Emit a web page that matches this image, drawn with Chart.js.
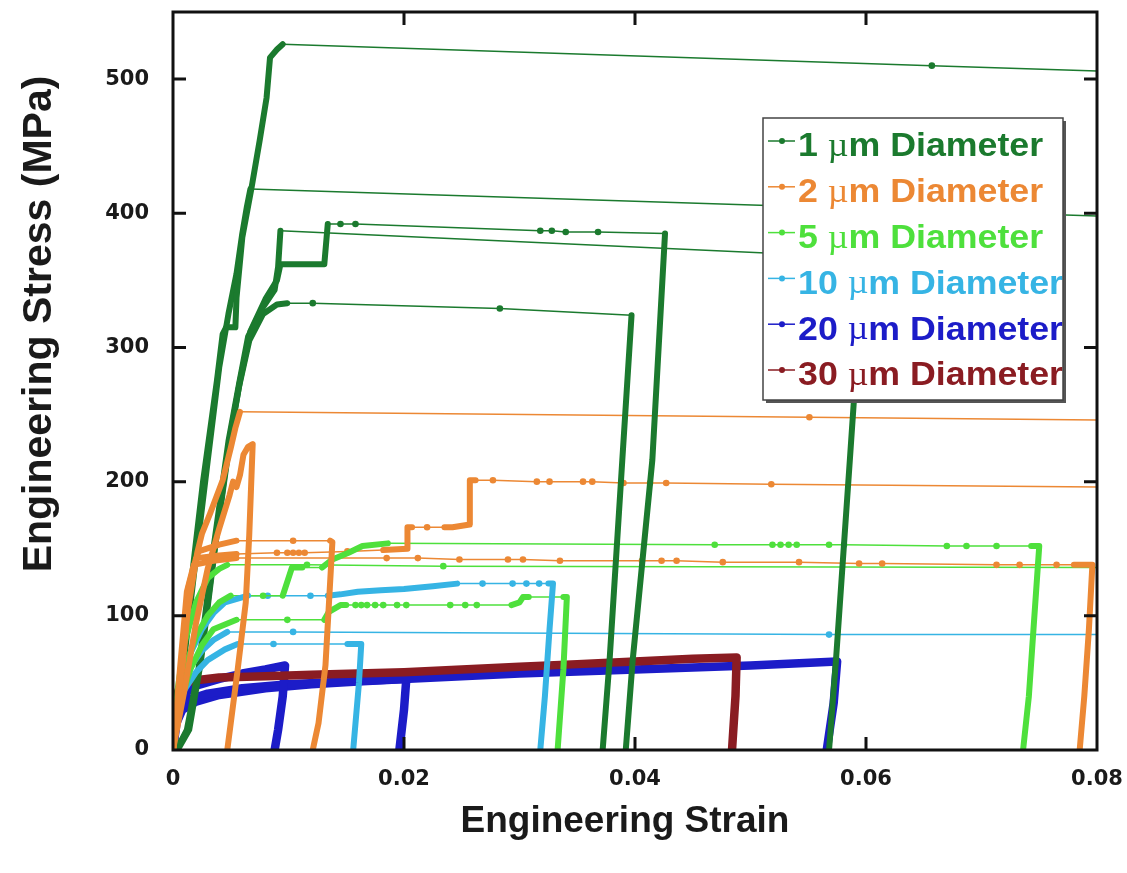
<!DOCTYPE html>
<html><head><meta charset="utf-8">
<script src="https://cdn.jsdelivr.net/npm/chart.js@4.4.1/dist/chart.umd.min.js"></script>
<style>html,body{margin:0;padding:0;background:#fff;overflow:hidden}#wrap{width:1127px;height:873px;position:relative}</style>
</head><body><div id="wrap"><canvas id="c"></canvas></div>
<script>
// ---------- axis ticks ----------
const strainTicks = [0, 0.02, 0.04, 0.06, 0.08];
const strainTickLabels = ['0', '0.02', '0.04', '0.06', '0.08'];
const stressTicks = [0, 100, 200, 300, 400, 500];
const stressTickLabels = ['0', '100', '200', '300', '400', '500'];
const xTitle = 'Engineering Strain';
const yTitle = 'Engineering Stress (MPa)';

// ---------- series ----------
const seriesNames = ['1 µm Diameter', '2 µm Diameter', '5 µm Diameter', '10 µm Diameter', '20 µm Diameter', '30 µm Diameter'];
const seriesColors = ['#1b7a2e', '#ec8834', '#4ee03c', '#36b4e4', '#1c1cc8', '#8a1c22'];

// 1 µm specimens [strain, stress]
const um1_a_load = [[0,0],[0.0006,45],[0.0015,119],[0.0026,200],[0.0038,275],[0.0043,310],[0.0046,315],[0.0054,315],[0.0055,337],[0.0060,382],[0.0068,419],[0.0075,454],[0.0081,486],[0.0084,516],[0.0090,522],[0.0095,526]];
const um1_a_tail = [[0.0657,510],[0.08,506]];
const um1_b_load = [[0,0],[0.0008,55],[0.0018,130],[0.0030,215],[0.0040,285],[0.0048,325],[0.0055,355],[0.0060,385],[0.0064,405],[0.0067,418]];
const um1_b_tail = [[0.08,398]];
const um1_c_load = [[0.0003,0],[0.0012,15],[0.0022,60],[0.0035,150],[0.0048,230],[0.0057,272],[0.0065,308],[0.0078,330],[0.0088,343],[0.0091,360],[0.0093,387]];
const um1_c_tail = [];
const um1_c_drop = [[0.0598,367],[0.0586,216],[0.0574,67],[0.0568,0]];
const um1_d_load = [[0.0004,0],[0.0014,15],[0.0024,65],[0.0037,155],[0.0050,235],[0.0058,275],[0.0067,312],[0.0080,336],[0.0090,350],[0.0093,362],[0.0131,362],[0.0134,392]];
const um1_d_tail = [[0.0145,392],[0.0158,392],[0.0318,387],[0.0328,387],[0.0340,386],[0.0368,386]];
const um1_d_drop = [[0.0426,385],[0.0415,216],[0.0398,67],[0.0392,0]];
const um1_e_load = [[0.0003,0],[0.0013,15],[0.0023,62],[0.0036,150],[0.0049,232],[0.0057,270],[0.0066,305],[0.0078,325],[0.0090,332],[0.0099,333]];
const um1_e_tail = [[0.0121,333],[0.0283,329]];
const um1_e_drop = [[0.0397,324],[0.0389,216],[0.0378,67],[0.0372,0]];

// 2 µm specimens
const um2_a_load = [[0,0],[0.0006,50],[0.0012,100],[0.0021,147],[0.0025,161],[0.0032,176],[0.0043,201],[0.0050,225],[0.0054,240],[0.0058,252]];
const um2_a_tail = [[0.0551,248],[0.08,246]];
const um2_b_load = [[0,0],[0.0010,45],[0.0020,95],[0.0030,135],[0.0040,165],[0.0049,190],[0.0052,200],[0.0055,196],[0.0058,205],[0.0061,220],[0.0065,226],[0.0069,228],[0.0066,160],[0.0063,110],[0.0056,60],[0.0050,20],[0.0047,0]];
const um2_c_load = [[0,0],[0.0008,60],[0.0015,125],[0.0022,148],[0.0040,153],[0.0055,156]];
const um2_c_tail = [[0.0104,156]];
const um2_c_drop = [[0.0136,156],[0.0138,155],[0.0132,63],[0.0126,20],[0.0121,0]];
const um2_d_load = [[0,0],[0.0007,60],[0.0013,120],[0.0020,143],[0.0040,145],[0.0055,146]];
const um2_d_tail1 = [[0.0090,147],[0.0099,147],[0.0104,147],[0.0109,147],[0.0114,147],[0.0151,148]];
const um2_d_step1 = [[0.0182,149],[0.0203,150],[0.0203,166],[0.0207,166]];
const um2_d_tail2 = [[0.0220,166]];
const um2_d_step2 = [[0.0235,166],[0.0242,166],[0.0257,168],[0.0257,201],[0.0262,201]];
const um2_d_tail3 = [[0.0277,201],[0.0315,200],[0.0326,200],[0.0355,200],[0.0363,200],[0.0390,199],[0.0413,199],[0.0427,199],[0.0518,198],[0.08,196]];
const um2_e_load = [[0,0],[0.0006,60],[0.0012,118],[0.0018,138],[0.0035,141],[0.0055,143]];
const um2_e_tail = [[0.0185,143],[0.0212,143],[0.0248,142],[0.0290,142],[0.0303,142],[0.0335,141],[0.0406,141],[0.0423,141],[0.0436,141],[0.0476,140],[0.0542,140],[0.0594,139],[0.0614,139],[0.0713,138],[0.0733,138],[0.0765,138]];
const um2_e_drop = [[0.0780,138],[0.0796,138],[0.0793,90],[0.0789,40],[0.0785,0]];

// 5 µm specimens
const um5_a_load = [[0,0],[0.0005,40],[0.0010,60],[0.0020,85],[0.0030,100],[0.0040,110],[0.0050,115]];
const um5_a_tail1 = [[0.0078,115]];
const um5_a_step1 = [[0.0095,115],[0.0103,136],[0.0112,136]];
const um5_a_tail2 = [];
const um5_a_step2 = [[0.0129,136],[0.0138,142],[0.0152,147],[0.0164,152],[0.0186,154]];
const um5_a_tail3 = [[0.0469,153],[0.0519,153],[0.0526,153],[0.0533,153],[0.0540,153],[0.0568,153],[0.0581,153],[0.0670,152],[0.0687,152],[0.0713,152]];
const um5_a_drop = [[0.0743,152],[0.0750,152],[0.0745,90],[0.0741,40],[0.0736,0]];
const um5_b_load = [[0,0],[0.0004,45],[0.0010,80],[0.0020,110],[0.0030,128],[0.0040,135],[0.0047,138]];
const um5_b_tail = [[0.0116,138],[0.0234,137],[0.08,136]];
const um5_c_load = [[0,0],[0.0006,35],[0.0015,60],[0.0025,78],[0.0035,90],[0.0055,97]];
const um5_c_tail1 = [[0.0099,97]];
const um5_c_step1 = [[0.0131,97],[0.0135,103],[0.0145,108],[0.0150,108]];
const um5_c_tail2 = [[0.0158,108],[0.0163,108],[0.0168,108],[0.0175,108],[0.0182,108],[0.0194,108],[0.0202,108],[0.0240,108],[0.0253,108],[0.0263,108]];
const um5_c_step2 = [[0.0293,108],[0.0300,110],[0.0303,114],[0.0308,114]];
const um5_c_tail3 = [];
const um5_c_drop = [[0.0338,114],[0.0341,114],[0.0338,60],[0.0333,0]];

// 10 µm specimens
const um10_a_load = [[0,0],[0.0003,35],[0.0008,55],[0.0015,72],[0.0025,90],[0.0035,102],[0.0045,110],[0.0065,115]];
const um10_a_tail1 = [[0.0082,115],[0.0119,115]];
const um10_a_step = [[0.0134,115],[0.0145,116],[0.0160,118],[0.0180,119],[0.0200,120],[0.0225,122],[0.0246,124]];
const um10_a_tail2 = [[0.0268,124],[0.0294,124],[0.0306,124],[0.0317,124]];
const um10_a_drop = [[0.0325,124],[0.0329,124],[0.0326,90],[0.0322,40],[0.0318,0]];
const um10_b_load = [[0,0],[0.0003,30],[0.0008,48],[0.0015,62],[0.0025,74],[0.0035,82],[0.0047,88]];
const um10_b_tail = [[0.0104,88],[0.0568,86],[0.08,86]];
const um10_c_load = [[0,0],[0.0004,30],[0.0010,45],[0.0020,58],[0.0030,67],[0.0045,75],[0.0056,79]];
const um10_c_tail = [[0.0087,79]];
const um10_c_drop = [[0.0151,79],[0.0163,79],[0.0161,50],[0.0158,20],[0.0156,0]];

// 20 µm specimens
const um20_a = [[0,0],[0.0002,25],[0.0005,35],[0.0010,42],[0.0020,48],[0.0040,53],[0.0060,57],[0.0080,60],[0.0097,63],[0.0095,40],[0.0091,15],[0.0088,0]];
const um20_b = [[0,0],[0.0003,25],[0.0007,32],[0.0015,38],[0.0030,42],[0.0060,46],[0.0100,49],[0.0150,51],[0.0200,53],[0.0300,57],[0.0400,60],[0.0500,63],[0.0575,66],[0.0572,35],[0.0566,0]];
const um20_c = [[0,0],[0.0003,20],[0.0008,30],[0.0020,36],[0.0040,41],[0.0080,46],[0.0120,49],[0.0160,51],[0.0202,53],[0.0200,30],[0.0196,0]];

// 30 µm specimen
const um30_a = [[0,0],[0.0001,25],[0.0003,40],[0.0006,47],[0.0010,50],[0.0020,52],[0.0040,54],[0.0080,55],[0.0120,56],[0.0160,57],[0.0200,58],[0.0250,60],[0.0300,62],[0.0350,64],[0.0400,66],[0.0450,68],[0.0488,69],[0.0487,40],[0.0484,0]];

// parts alternate: dense (thick) part, sparse (thin, dotted) part, dense part ...
const specimens = [
  [[um1_a_load, um1_a_tail], [um1_b_load, um1_b_tail], [um1_c_load, um1_c_tail, um1_c_drop], [um1_d_load, um1_d_tail, um1_d_drop], [um1_e_load, um1_e_tail, um1_e_drop]],
  [[um2_a_load, um2_a_tail], [um2_b_load], [um2_c_load, um2_c_tail, um2_c_drop], [um2_d_load, um2_d_tail1, um2_d_step1, um2_d_tail2, um2_d_step2, um2_d_tail3], [um2_e_load, um2_e_tail, um2_e_drop]],
  [[um5_a_load, um5_a_tail1, um5_a_step1, um5_a_tail2, um5_a_step2, um5_a_tail3, um5_a_drop], [um5_b_load, um5_b_tail], [um5_c_load, um5_c_tail1, um5_c_step1, um5_c_tail2, um5_c_step2, um5_c_tail3, um5_c_drop]],
  [[um10_a_load, um10_a_tail1, um10_a_step, um10_a_tail2, um10_a_drop], [um10_b_load, um10_b_tail], [um10_c_load, um10_c_tail, um10_c_drop]],
  [[um20_a], [um20_b], [um20_c]],
  [[um30_a]]
];

const thickOrder = [13, 10, 11, 12, 15, 14];
const thickWidth = [6, 6, 6, 6, 8.5, 8.5];
const toXY = arr => arr.map(p => ({x: p[0], y: p[1]}));

const datasets = [];
specimens.forEach((group, s) => {
  const color = seriesColors[s];
  group.forEach(parts => {
    parts.forEach((part, i) => {
      if (i % 2 === 0) {
        datasets.push({label: seriesNames[s], data: toXY(part), showLine: true, borderColor: color, backgroundColor: color,
          borderWidth: thickWidth[s], pointRadius: 0, borderJoinStyle: 'round', borderCapStyle: 'round', order: thickOrder[s], clip: 0});
      } else {
        const prev = parts[i - 1], next = parts[i + 1];
        const pts = [prev[prev.length - 1], ...part];
        if (next) pts.push(next[0]);
        const n = pts.length;
        datasets.push({label: seriesNames[s], data: toXY(pts), showLine: true, borderColor: color, backgroundColor: color,
          borderWidth: 1.5, pointRadius: ctx => (ctx.dataIndex === 0 || ctx.dataIndex === n - 1) ? 0 : 3.3,
          pointBorderWidth: 0, pointBackgroundColor: color, order: 20 + s, clip: 0});
      }
    });
  });
});

const decorPlugin = {
  id: 'decor',
  afterDatasetsDraw(chart) {
    const {ctx, chartArea: {left, right, top, bottom}, scales: {x, y}} = chart;
    ctx.save();
    ctx.strokeStyle = '#111';
    ctx.lineWidth = 3;
    ctx.strokeRect(left, top, right - left, bottom - top);
    ctx.beginPath();
    strainTicks.forEach(v => {
      const px = x.getPixelForValue(v);
      if (v > strainTicks[0] && v < strainTicks[strainTicks.length - 1]) {
        ctx.moveTo(px, bottom); ctx.lineTo(px, bottom - 13);
        ctx.moveTo(px, top); ctx.lineTo(px, top + 13);
      }
    });
    stressTicks.forEach(v => {
      const py = y.getPixelForValue(v);
      if (v > 0) {
        ctx.moveTo(left, py); ctx.lineTo(left + 13, py);
        ctx.moveTo(right, py); ctx.lineTo(right - 13, py);
      }
    });
    ctx.stroke();
    ctx.restore();
  },
  afterDraw(chart) {
    const {ctx, chartArea: {left, right, top, bottom}} = chart;
    ctx.save();
    // axis titles
    ctx.fillStyle = '#1a1a1a';
    ctx.textAlign = 'center';
    ctx.textBaseline = 'middle';
    ctx.font = 'bold 37px "Liberation Sans", Arial, sans-serif';
    ctx.fillText(xTitle, (left + right) / 2 - 10, bottom + 72);
    ctx.save();
    ctx.translate(40, 324);
    ctx.rotate(-Math.PI / 2);
    ctx.font = 'bold 41px "Liberation Sans", Arial, sans-serif';
    ctx.fillText(yTitle, 0, 0);
    ctx.restore();

    // legend box
    const lx = 763, ly = 118, lw = 300, lh = 282;
    ctx.fillStyle = '#555';
    ctx.fillRect(lx + 3, ly + 3, lw, lh);
    ctx.fillStyle = '#fff';
    ctx.fillRect(lx, ly, lw, lh);
    const rowH = 45.8;
    seriesNames.forEach((name, i) => {
      const cy = ly + 29 + i * rowH;
      const color = seriesColors[i];
      ctx.strokeStyle = color; ctx.fillStyle = color;
      ctx.lineWidth = 1.5;
      ctx.beginPath(); ctx.moveTo(lx + 5, cy - 6); ctx.lineTo(lx + 32, cy - 6); ctx.stroke();
      ctx.beginPath(); ctx.arc(lx + 19, cy - 6, 3, 0, Math.PI * 2); ctx.fill();
      ctx.save();
      ctx.translate(lx + 35, cy);
      ctx.scale(1.1, 1.05);
      ctx.textAlign = 'left';
      ctx.textBaseline = 'middle';
      const segs = name.split('µ');
      let tx = 0;
      ctx.font = 'bold 32.5px "Liberation Sans", Arial, sans-serif';
      ctx.fillText(segs[0], tx, 0); tx += ctx.measureText(segs[0]).width;
      ctx.font = '32.5px "Liberation Serif", serif';
      ctx.fillText('µ', tx, 0); tx += ctx.measureText('µ').width;
      ctx.font = 'bold 32.5px "Liberation Sans", Arial, sans-serif';
      ctx.fillText(segs[1], tx, 0);
      ctx.restore();
    });
    ctx.strokeStyle = '#444';
    ctx.lineWidth = 1.5;
    ctx.strokeRect(lx, ly, lw, lh);
    ctx.restore();
  }
};

const tickFont = {family: '"DejaVu Sans", Arial, sans-serif', size: 21, weight: 'bold'};

new Chart(document.getElementById('c'), {
  type: 'scatter',
  data: {datasets},
  options: {
    responsive: true,
    maintainAspectRatio: false,
    animation: false,
    layout: {padding: {left: 0, right: 30, top: 12, bottom: 0}},
    plugins: {legend: {display: false}, tooltip: {enabled: false}},
    scales: {
      x: {
        type: 'linear', min: 0, max: 0.08,
        grid: {display: false}, border: {display: false},
        afterBuildTicks: sc => { sc.ticks = strainTicks.map(v => ({value: v})); },
        afterFit: sc => { sc.height = 123; sc.paddingLeft = 0; sc.paddingRight = 0; },
        ticks: {callback: (v, i) => strainTickLabels[i], font: tickFont, color: '#1a1a1a', padding: 9, maxRotation: 0, autoSkip: false}
      },
      y: {
        type: 'linear', min: 0, max: 550,
        grid: {display: false}, border: {display: false},
        afterBuildTicks: sc => { sc.ticks = stressTicks.map(v => ({value: v})); },
        afterFit: sc => { sc.width = 173; sc.paddingTop = 0; sc.paddingBottom = 0; },
        ticks: {callback: (v, i) => stressTickLabels[i], font: tickFont, color: '#1a1a1a', padding: 16, autoSkip: false}
      }
    }
  },
  plugins: [decorPlugin]
});
</script>
</body></html>
